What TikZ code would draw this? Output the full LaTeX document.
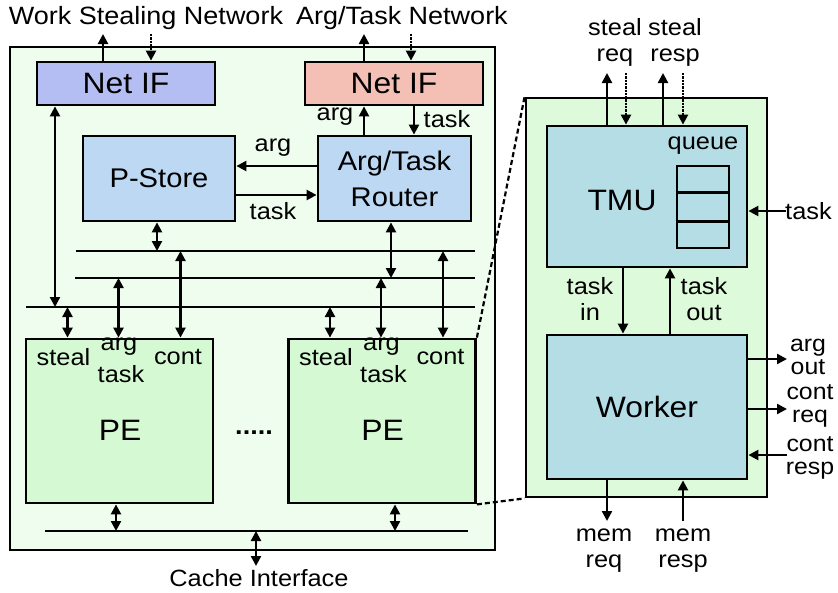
\documentclass[tikz,border=0pt]{standalone}
\usepackage{fontspec}
\setmainfont{Liberation Sans}[FakeStretch=1.08]
\usetikzlibrary{arrows.meta,calc}
\definecolor{outerfill}{HTML}{EEFDEE}
\definecolor{pefill}{HTML}{D5FAD3}
\definecolor{rboxfill}{HTML}{DDFADA}
\definecolor{tmufill}{HTML}{B4DDE6}
\definecolor{storefill}{HTML}{BCD8F2}
\definecolor{netlfill}{HTML}{B4BEF2}
\definecolor{netrfill}{HTML}{F4C0B5}
\tikzset{
  blk/.style={draw, line width=2.8pt, inner sep=0pt, align=center},
  bigtxt/.style={font=\fontsize{27}{36}\selectfont},
  hugetxt/.style={font=\fontsize{29.5}{36}\selectfont},
  lbl/.style={inner sep=0pt, align=center, font=\fontsize{23.5}{26}\selectfont},
  tightlbl/.style={inner sep=0pt, align=center, font=\fontsize{23}{23.5}\selectfont},
  hdr/.style={inner sep=0pt, font=\fontsize{25}{28}\selectfont},
  tip/.tip={Triangle[length=10pt,width=10pt]},
  arr/.style={line width=2.3pt, -tip},
  dbl/.style={line width=2.3pt, tip-tip},
  dotarr/.style={line width=2.3pt, densely dotted, -tip},
  bus/.style={line width=2.8pt},
  zoomline/.style={line width=2.2pt, dash pattern=on 5pt off 3pt},
}
\begin{document}
\begin{tikzpicture}[x=1pt,y=-1pt]
\useasboundingbox (0,0) rectangle (838,592);
% outer boxes
\node[blk, fill=outerfill, minimum width=485pt, minimum height=503pt] (outer) at (252.5,298.5) {};
\node[blk, fill=rboxfill, minimum width=241pt, minimum height=399pt] (rbox) at (646.5,297.5) {};
% left part blocks
\node[blk, hugetxt, fill=netlfill, minimum width=178pt, minimum height=43pt] (netL) at (126,83.5) {Net IF};
\node[blk, hugetxt, fill=netrfill, minimum width=178pt, minimum height=43pt] (netR) at (394,83.5) {Net IF};
\node[blk, bigtxt, fill=storefill, minimum width=152pt, minimum height=85pt] (pstore) at (159,178.5) {P-Store};
\node[blk, bigtxt, fill=storefill, minimum width=153pt, minimum height=85pt] (router) at (394.5,178.5) {Arg/Task\\Router};
\node[blk, fill=pefill, minimum width=187pt, minimum height=164pt] (pe1) at (119.5,421) {};
\node[blk, fill=pefill, minimum width=187pt, minimum height=164pt] (pe2) at (382,421) {};
% headers
\node[hdr] (wsnet) at (146,18) {Work Stealing Network};
\node[hdr] (atnet) at (402,18) {Arg/Task Network};
\coordinate (wsOut) at (103,34);
\coordinate (wsIn) at (151,34);
\coordinate (atOut) at (364,34);
\coordinate (atIn) at (411,34);
\draw[arr] (netL.north -| wsOut) -- (wsOut);
\draw[dotarr] (wsIn) -- (netL.north -| wsIn);
\draw[arr] (netR.north -| atOut) -- (atOut);
\draw[dotarr] (atIn) -- (netR.north -| atIn);
% netR <-> router
\coordinate (xtask) at (414,0);
\draw[arr] (router.north -| atOut) -- (netR.south -| atOut);
\draw[arr] (netR.south -| xtask) -- (router.north -| xtask);
\node[lbl] (lblArgUp) at (335,117) {arg};
\node[lbl] (lblTaskDn) at (447,119) {task};
% router <-> pstore
\coordinate (yarg) at (0,166);
\coordinate (ytask) at (0,195);
\draw[arr] (router.west |- yarg) -- (pstore.east |- yarg);
\draw[arr] (pstore.east |- ytask) -- (router.west |- ytask);
\node[lbl] (lblArgL) at (273,148) {arg};
\node[lbl] (lblTaskL) at (273,211) {task};
% buses
\coordinate (b1L) at (76,251); \coordinate (b1R) at (475,251);
\coordinate (b2L) at (75,278); \coordinate (b2R) at (475,278);
\coordinate (b3L) at (26,307); \coordinate (b3R) at (475,307);
\coordinate (b4L) at (45,531); \coordinate (b4R) at (468,531);
\draw[bus] (b1L) -- (b1R);
\draw[bus] (b2L) -- (b2R);
\draw[bus] (b3L) -- (b3R);
\draw[bus] (b4L) -- (b4R);
% vertical connections
\draw[dbl] ([xshift=-2pt]pstore.south) -- ([xshift=-2pt]pstore.south |- b1L);
\draw[dbl] ([xshift=-3.5pt]router.south) -- ([xshift=-3.5pt]router.south |- b2L);
\draw[dbl] ([xshift=-71pt]netL.south) -- ([xshift=-71pt]netL.south |- b3L);
\foreach \p in {pe1,pe2}{
  \draw[dbl] ([xshift=-52pt]\p.north |- b3L) -- ([xshift=-52pt]\p.north);
  \draw[dbl] ([xshift=-1pt]\p.north |- b2L) -- ([xshift=-1pt]\p.north);
  \draw[dbl] ([xshift=61pt]\p.north |- b1L) -- ([xshift=61pt]\p.north);
  \node[lbl] (\p-steal) at ($(\p.north)+(-56,19)$) {steal};
  \node[lbl] (\p-arg) at ($(\p.north)+(-0.5,9)$) {arg};
  \node[lbl] (\p-task) at ($(\p.north)+(1.5,36)$) {task};
  \node[lbl] (\p-cont) at ($(\p.north)+(58.5,19)$) {cont};
  \node[hugetxt, inner sep=0pt] (\p-name) at ($(\p.north)+(0.5,93)$) {PE};
}
\draw[dbl] ([xshift=-3.5pt]pe1.south) -- ([xshift=-3.5pt]pe1.south |- b4L);
\draw[dbl] ([xshift=13pt]pe2.south) -- ([xshift=13pt]pe2.south |- b4L);
\node[inner sep=0pt, font=\fontsize{25}{28}\selectfont\bfseries] (dots) at (254,433) {.....};
\coordinate (cacheEnd) at (256,566);
\draw[dbl] (cacheEnd |- b4L) -- (cacheEnd);
\node[hdr, font=\fontsize{23.5}{26}\selectfont] (cache) at (259,578) {Cache Interface};
% right part
\node[blk, fill=tmufill, minimum width=200pt, minimum height=141pt] (tmu) at (647,196.5) {};
\node[hugetxt, inner sep=0pt] (tmulbl) at (622,200) {TMU};
\node[blk, hugetxt, fill=tmufill, minimum width=200pt, minimum height=144pt] (worker) at (647,407) {Worker};
\node[draw, line width=2.8pt, minimum width=52pt, minimum height=82pt, inner sep=0pt] (queue) at (703,207) {};
\draw[line width=2.8pt] ($(queue.north west)!1/3!(queue.south west)$) -- ($(queue.north east)!1/3!(queue.south east)$);
\draw[line width=2.8pt] ($(queue.north west)!2/3!(queue.south west)$) -- ($(queue.north east)!2/3!(queue.south east)$);
\node[lbl] (queuelbl) at (703,146) {queue};
% steal req/resp
\coordinate (srqOut) at (607,73);
\coordinate (srqIn) at (626,73);
\coordinate (srsOut) at (663,73);
\coordinate (srsIn) at (683,73);
\draw[arr] (tmu.north -| srqOut) -- (srqOut);
\draw[dotarr] (srqIn) -- (tmu.north -| srqIn);
\draw[arr] (tmu.north -| srsOut) -- (srsOut);
\draw[dotarr] (srsIn) -- (tmu.north -| srsIn);
\node[lbl] (lblSreq) at (615,42) {steal\\req};
\node[lbl] (lblSresp) at (675,42) {steal\\resp};
% task into TMU
\coordinate (taskR) at (786,211);
\draw[arr] (taskR) -- (tmu.east |- taskR);
\node[lbl, anchor=west] (lblTaskR) at (785,211) {task};
% TMU <-> worker
\coordinate (xtin) at (623,0);
\coordinate (xtout) at (670,0);
\draw[arr] (tmu.south -| xtin) -- (worker.north -| xtin);
\draw[arr] (worker.north -| xtout) -- (tmu.south -| xtout);
\node[lbl] (lblTin) at (590,299) {task\\in};
\node[lbl] (lblTout) at (704,299) {task\\out};
% worker right
\coordinate (argOut) at (787,359);
\coordinate (contReq) at (787,409);
\coordinate (contResp) at (787,455);
\draw[arr] (worker.east |- argOut) -- (argOut);
\draw[arr] (worker.east |- contReq) -- (contReq);
\draw[arr] (contResp) -- (worker.east |- contResp);
\node[tightlbl] (lblArgOut) at (808,357) {arg\\out};
\node[tightlbl] (lblContReq) at (810,406) {cont\\req};
\node[tightlbl] (lblContResp) at (810,458) {cont\\resp};
% worker bottom
\coordinate (memReq) at (607,521);
\coordinate (memResp) at (683,521);
\draw[arr] (worker.south -| memReq) -- (memReq);
\draw[arr] (memResp) -- (worker.south -| memResp);
\node[lbl] (lblMemReq) at (604,551) {mem\\req};
\node[lbl] (lblMemResp) at (683,551) {mem\\resp};
% zoom lines
\draw[zoomline] (pe2.north east) -- (rbox.north west);
\draw[zoomline] (pe2.south east) -- (rbox.south west);
\end{tikzpicture}
\end{document}
